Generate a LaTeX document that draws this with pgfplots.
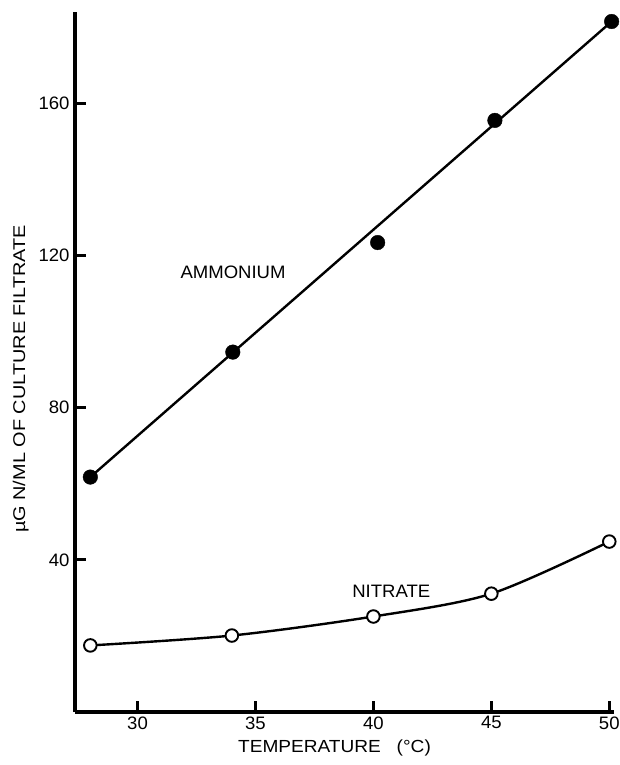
\documentclass[border=0pt]{standalone}
\usepackage{pgfplots}
\pgfplotsset{compat=1.18}
\usepackage{fontspec}
\setmainfont{Liberation Sans}
\newfontfamily\ylabfont[FakeStretch=1.17]{Liberation Sans}
\newfontfamily\xlabfont[FakeStretch=1.09]{Liberation Sans}
\newfontfamily\txtfont[FakeStretch=1.03]{Liberation Sans}
\begin{document}
\begin{tikzpicture}
\begin{axis}[
  name=ax,
  scale only axis,
  width=539pt, height=700pt,
  xmin=27.35, xmax=50.2, ymin=0, ymax=184,
  axis x line*=bottom, axis y line*=left,
  axis line style={line width=3.4pt},
  xtick={30,35,40,45,50}, ytick={40,80,120,160},
  tick align=inside,
  major tick length=11pt,
  tick style={line width=3pt, black},
  tick label style={font=\txtfont\fontsize{18}{20}\selectfont},
  /pgf/number format/assume math mode=true,
  xticklabel style={yshift=-1pt},
  yticklabel style={xshift=-2pt},
  xlabel={TEMPERATURE\ \ \ (°C)},
  ylabel={µG N/ML OF CULTURE FILTRATE},
  xlabel style={font=\xlabfont\fontsize{17.5}{20}\selectfont, yshift=-4pt, xshift=-10pt},
  ylabel style={font=\ylabfont\fontsize{17}{20}\selectfont, yshift=3pt, xshift=-17pt},
  clip=false,
]
% Ammonium fitted line
\addplot[black, line width=2.4pt] coordinates {(28.0,61.75) (50.1,181.5)};
% Ammonium points
\addplot[only marks, mark=*, mark size=7.3pt, mark options={fill=black, draw=black}]
  coordinates {(28.0,61.75) (34.04,94.6) (40.18,123.4) (45.15,155.5) (50.1,181.5)};
% Nitrate curve and points
\addplot[black, line width=2.4pt, smooth, tension=0.5, mark=*, mark size=6.3pt,
  mark options={fill=white, draw=black, line width=1.9pt}]
  coordinates {(28.0,17.5) (34.0,20.1) (40.0,25.1) (45.0,31.1) (50.0,44.8)};
\node[font=\txtfont\fontsize{18}{20}\selectfont] at (axis cs:34.05,115.5) {AMMONIUM};
\node[font=\txtfont\fontsize{18}{20}\selectfont] at (axis cs:40.76,31.6) {NITRATE};
\end{axis}
\pgfresetboundingbox
\path ([xshift=-75pt,yshift=-53pt]ax.south west) rectangle ([xshift=5pt,yshift=12pt]ax.north east);
\end{tikzpicture}
\end{document}
